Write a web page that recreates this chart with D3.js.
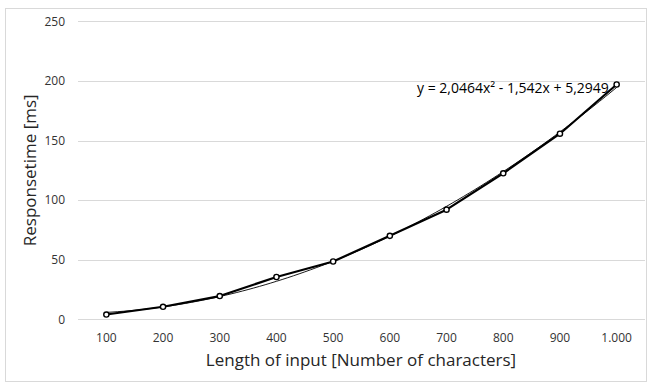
<!DOCTYPE html>
<html>
<head>
<meta charset="utf-8">
<script src="https://cdn.jsdelivr.net/npm/d3@7"></script>
<style>
  body { margin: 0; background: #fff; }
  text { font-family: "Open Sans", Lato, sans-serif; }
</style>
</head>
<body>
<div id="chart"></div>
<script>
// values
const categories = ["100", "200", "300", "400", "500", "600", "700", "800", "900", "1.000"];
const responseMs = [4, 10.5, 19.5, 35.5, 48.5, 70, 92, 122.5, 155.7, 197];
const yTicks = [0, 50, 100, 150, 200, 250];
// polynomial trendline shown on the chart: y = a*x^2 + b*x + c, x = 1..10
const trendCoef = [2.0464, -1.542, 5.2949];
const trendLabel = "y = 2,0464x² - 1,542x + 5,2949";

const width = 650, height = 384;
const plot = { left: 78, right: 645, top: 21.3, bottom: 319.3 };

const svg = d3.select("#chart").append("svg")
  .attr("width", width)
  .attr("height", height);

// chart area border
svg.append("rect")
  .attr("x", 5.5).attr("y", 8.5)
  .attr("width", 641).attr("height", 373)
  .attr("fill", "#fff")
  .attr("stroke", "#d9d9d9");

const x = d3.scaleBand()
  .domain(categories)
  .range([plot.left, plot.right]);

const y = d3.scaleLinear()
  .domain([0, 250])
  .range([plot.bottom, plot.top]);

// gridlines
svg.append("g")
  .selectAll("line")
  .data(yTicks)
  .enter().append("line")
  .attr("x1", plot.left).attr("x2", plot.right)
  .attr("y1", d => Math.round(y(d)) + 0.5)
  .attr("y2", d => Math.round(y(d)) + 0.5)
  .attr("stroke", "#d9d9d9")
  .attr("stroke-width", 1);

// y tick labels
svg.append("g")
  .selectAll("text")
  .data(yTicks)
  .enter().append("text")
  .attr("x", 65)
  .attr("y", d => y(d))
  .attr("dy", "0.35em")
  .attr("text-anchor", "end")
  .style("font-size", "12px")
  .style("fill", "#333")
  .text(d => d);

// x tick labels
svg.append("g")
  .selectAll("text")
  .data(categories)
  .enter().append("text")
  .attr("x", d => x(d) + x.bandwidth() / 2)
  .attr("y", 341.5)
  .attr("text-anchor", "middle")
  .style("font-size", "12px")
  .style("fill", "#333")
  .text(d => d);

// axis titles
svg.append("text")
  .attr("x", 361)
  .attr("y", 366)
  .attr("text-anchor", "middle")
  .style("font-size", "17px")
  .style("fill", "#262626")
  .text("Length of input [Number of characters]");

svg.append("text")
  .attr("transform", `translate(36,${(plot.top + plot.bottom) / 2}) rotate(-90)`)
  .attr("text-anchor", "middle")
  .style("font-size", "17px")
  .style("fill", "#262626")
  .text("Responsetime [ms]");

// trendline, evaluated at each category and between them
const xIdx = d3.scaleLinear()
  .domain([1, categories.length])
  .range([x(categories[0]) + x.bandwidth() / 2, x(categories[categories.length - 1]) + x.bandwidth() / 2]);
const trendPts = d3.range(1, categories.length + 0.001, 0.1)
  .map(t => [t, trendCoef[0] * t * t + trendCoef[1] * t + trendCoef[2]]);

svg.append("path")
  .datum(trendPts)
  .attr("fill", "none")
  .attr("stroke", "#000")
  .attr("stroke-width", 0.9)
  .attr("d", d3.line().x(d => xIdx(d[0])).y(d => y(d[1])));

// data line
const line = d3.line()
  .x((d, i) => x(categories[i]) + x.bandwidth() / 2)
  .y(d => y(d));

svg.append("path")
  .datum(responseMs)
  .attr("fill", "none")
  .attr("stroke", "#000")
  .attr("stroke-width", 2.2)
  .attr("stroke-linejoin", "round")
  .attr("d", line);

svg.append("g")
  .selectAll("circle")
  .data(responseMs)
  .enter().append("circle")
  .attr("cx", (d, i) => x(categories[i]) + x.bandwidth() / 2)
  .attr("cy", d => y(d))
  .attr("r", 2.6)
  .attr("fill", "#fff")
  .attr("stroke", "#000")
  .attr("stroke-width", 1.4);

// trendline equation label
svg.append("text")
  .attr("x", 417)
  .attr("y", 93)
  .style("font-size", "14px")
  .style("fill", "#000")
  .text(trendLabel);
</script>
</body>
</html>
